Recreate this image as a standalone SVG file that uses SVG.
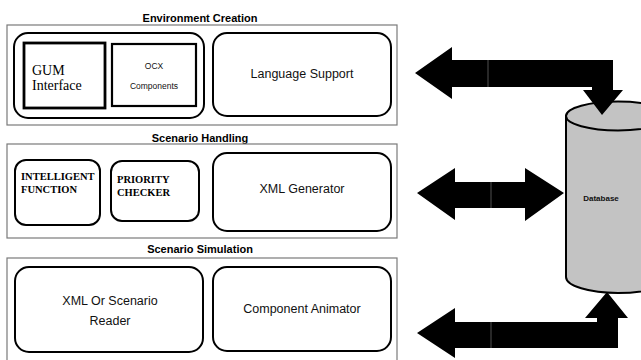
<svg xmlns="http://www.w3.org/2000/svg" width="641" height="360" viewBox="0 0 641 360">
  <style>
    .section { fill: #fff; stroke: #7a7a7a; stroke-width: 1.2; }
    .box { fill: #fff; stroke: #000; stroke-width: 2; }
    .title { font-family: "Liberation Sans", Arial, sans-serif; font-weight: bold; font-size: 11px; text-anchor: middle; fill: #000; }
    .label { font-family: "Liberation Sans", Arial, sans-serif; font-size: 12.5px; text-anchor: middle; fill: #111; }
    .small { font-family: "Liberation Sans", Arial, sans-serif; font-size: 8.5px; text-anchor: middle; fill: #111; }
    .serif { font-family: "Liberation Serif", "Times New Roman", serif; font-size: 14px; fill: #000; }
    .serifb { font-family: "Liberation Serif", "Times New Roman", serif; font-weight: bold; font-size: 10.5px; fill: #000; }
    .arrow { fill: #000; stroke: none; }
    .seam { stroke: #666; stroke-width: 0.8; }
  </style>
  <rect width="641" height="360" fill="#fff"/>

  <!-- Environment Creation layer -->
  <g id="environment-creation">
    <text class="title" x="200" y="22">Environment Creation</text>
    <rect class="section" x="7" y="25" width="390" height="100"/>
    <g id="gui-group">
      <rect class="box" x="14" y="33" width="190" height="85" rx="14"/>
      <g id="gum-interface">
        <rect x="24" y="43" width="81" height="65" fill="#fff" stroke="#000" stroke-width="2.8"/>
        <text class="serif" x="32" y="75">GUM</text>
        <text class="serif" x="32" y="90">Interface</text>
      </g>
      <g id="ocx-components">
        <rect x="112" y="44" width="84" height="62" fill="#fff" stroke="#000" stroke-width="2.2"/>
        <text class="small" x="154" y="69">OCX</text>
        <text class="small" x="154" y="89">Components</text>
      </g>
    </g>
    <g id="language-support">
      <rect class="box" x="213" y="33" width="178" height="83" rx="14"/>
      <text class="label" x="302" y="78">Language Support</text>
    </g>
  </g>

  <!-- Scenario Handling layer -->
  <g id="scenario-handling">
    <text class="title" x="200" y="142">Scenario Handling</text>
    <rect class="section" x="7" y="144" width="390" height="94"/>
    <g id="intelligent-function">
      <rect class="box" x="15" y="160" width="85" height="65" rx="11"/>
      <text class="serifb" x="21" y="180">INTELLIGENT</text>
      <text class="serifb" x="21" y="193">FUNCTION</text>
    </g>
    <g id="priority-checker">
      <rect class="box" x="111" y="161" width="88" height="60" rx="11"/>
      <text class="serifb" x="117" y="183">PRIORITY</text>
      <text class="serifb" x="117" y="196">CHECKER</text>
    </g>
    <g id="xml-generator">
      <rect class="box" x="213" y="153" width="178" height="78" rx="14"/>
      <text class="label" x="302" y="193">XML Generator</text>
    </g>
  </g>

  <!-- Scenario Simulation layer -->
  <g id="scenario-simulation">
    <text class="title" x="200" y="253">Scenario Simulation</text>
    <rect class="section" x="7" y="258" width="390" height="110"/>
    <g id="scenario-reader">
      <rect class="box" x="15" y="267" width="188" height="85" rx="14"/>
      <text class="label" x="110" y="305">XML Or Scenario</text>
      <text class="label" x="110" y="325">Reader</text>
    </g>
    <g id="component-animator">
      <rect class="box" x="213" y="267" width="178" height="84" rx="14"/>
      <text class="label" x="302" y="313">Component Animator</text>
    </g>
  </g>

  <!-- Database -->
  <g id="database">
    <path d="M566,116 L566,277 A52,16 0 0 0 670,277 L670,116 Z" fill="#c3c3c3" stroke="#000" stroke-width="2"/>
    <ellipse cx="618" cy="116" rx="52" ry="14.5" fill="#c3c3c3" stroke="#000" stroke-width="2"/>
    <text x="601" y="201" font-family="'Liberation Sans', Arial, sans-serif" font-size="8" font-weight="bold" text-anchor="middle" fill="#111">Database</text>
  </g>

  <!-- Connectors -->
  <g id="connectors">
    <!-- database to environment creation -->
    <path class="arrow" d="M415,73 L452,47 L452,60 L613,60 L613,90 L623,90 L602,115 L583,90 L592,90 L592,87 L452,87 L452,99 Z"/>
    <line class="seam" x1="488" y1="60" x2="488" y2="87"/>
    <!-- scenario handling to and from database -->
    <path class="arrow" d="M417,193 L455,168 L455,182 L525,182 L525,168 L564,193 L525,221 L525,208 L455,208 L455,220 Z"/>
    <line class="seam" x1="491" y1="182" x2="491" y2="208"/>
    <!-- database to scenario simulation -->
    <path class="arrow" d="M417,333 L455,308 L455,322 L597,322 L597,318 L585,318 L607,292 L628,318 L618,318 L618,348 L455,348 L455,358 Z"/>
    <line class="seam" x1="491" y1="322" x2="491" y2="348"/>
  </g>
</svg>
